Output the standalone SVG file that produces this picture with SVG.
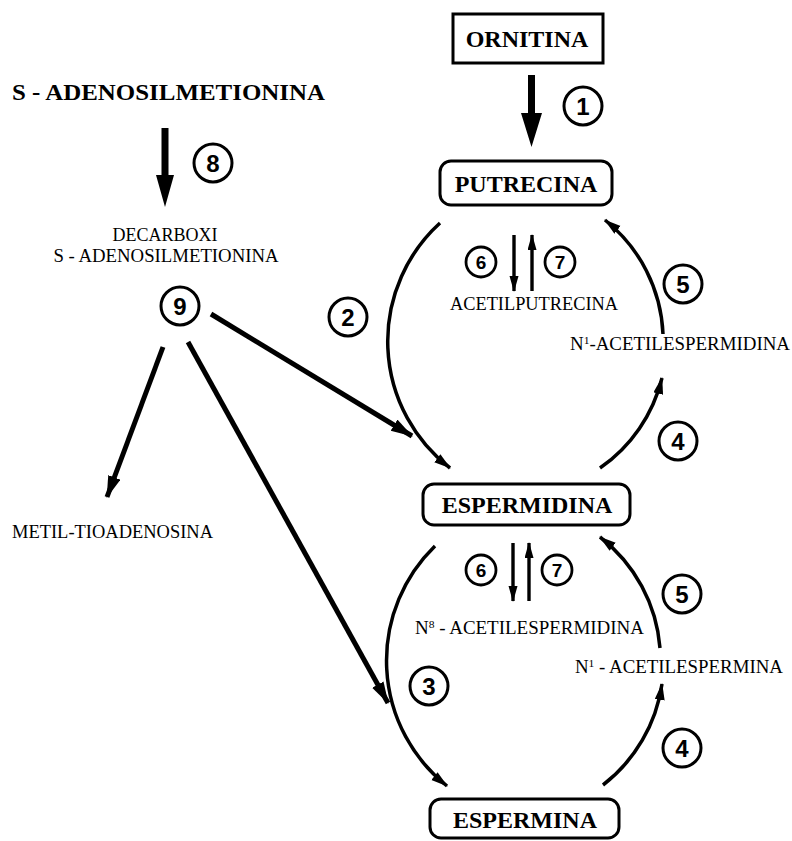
<svg xmlns="http://www.w3.org/2000/svg" width="792" height="841" viewBox="0 0 792 841">
<style>
.box{fill:none;stroke:#000;stroke-width:3}
.bt{font-family:"Liberation Serif","Times New Roman",serif;font-weight:bold;font-size:24px;text-anchor:middle;fill:#000}
.lt{font-family:"Liberation Serif","Times New Roman",serif;font-size:18px;fill:#000}
.sup{font-size:11px}
.cb circle{fill:#fff;stroke:#000;stroke-width:3}
.cb text{font-family:"Liberation Sans",Arial,sans-serif;font-weight:bold;font-size:24px;text-anchor:middle;fill:#000}
.cs circle{fill:#fff;stroke:#000;stroke-width:2.8}
.cs text{font-family:"Liberation Sans",Arial,sans-serif;font-weight:bold;font-size:19px;text-anchor:middle;fill:#000}
.arc{fill:none;stroke:#000;stroke-width:3.5;marker-end:url(#ah)}
.thk{fill:none;stroke:#000;stroke-width:5;marker-end:url(#ahb)}
.thn{fill:none;stroke:#000;stroke-width:3.4;marker-end:url(#ahs)}
</style>
<defs>
<marker id="ah" markerUnits="userSpaceOnUse" markerWidth="18" markerHeight="12" refX="16" refY="5" orient="auto"><path d="M0,0 L17,5 L0,10 Z" fill="#000"/></marker>
<marker id="ahb" markerUnits="userSpaceOnUse" markerWidth="24" markerHeight="16" refX="21" refY="6.5" orient="auto"><path d="M0,0 L22,6.5 L0,13 Z" fill="#000"/></marker>
<marker id="ahs" markerUnits="userSpaceOnUse" markerWidth="18" markerHeight="10" refX="15" refY="4.5" orient="auto"><path d="M0,0 L16,4.5 L0,9 Z" fill="#000"/></marker>
</defs>

<g id="connectors">
  <path id="arrow1" d="M528,75 H535 V113 H542 L531.5,147 L521,113 H528 Z" fill="#000"/>
  <path id="arrow8" d="M161.5,128 H168.5 V175 H174 L165,207 L156,175 H161.5 Z" fill="#000"/>
  <path class="arc" d="M440,223 A160,160 0 0 0 450,468"/>
  <path class="arc" d="M600,468 A154,154 0 0 0 662,378"/>
  <path class="arc" d="M663,334 A154,154 0 0 0 605,220"/>
  <path class="thn" d="M514,235 V291"/>
  <path class="thn" d="M532,291 V235"/>
  <path class="arc" d="M435,546 A160,160 0 0 0 447,786"/>
  <path class="arc" d="M603,785 A156,156 0 0 0 662,684"/>
  <path class="arc" d="M660,648 A156,156 0 0 0 600,537"/>
  <path class="thn" d="M513,543 V601"/>
  <path class="thn" d="M529,601 V543"/>
  <path class="thk" d="M211,314 L412,436"/>
  <path class="thk" d="M188,342 L388,703"/>
  <path class="thk" d="M163,347 L107,497"/>
</g>

<g id="ornitina"><rect class="box" x="453" y="14" width="150" height="49"/><text class="bt" x="527" y="47">ORNITINA</text></g>
<g id="putrecina"><rect class="box" x="440" y="161" width="172" height="44" rx="11"/><text class="bt" x="526" y="192">PUTRECINA</text></g>
<g id="espermidina"><rect class="box" x="423" y="484" width="207" height="41" rx="11"/><text class="bt" x="527" y="513">ESPERMIDINA</text></g>
<g id="espermina"><rect class="box" x="430" y="799" width="189" height="39" rx="11"/><text class="bt" x="525" y="828">ESPERMINA</text></g>

<g id="sam"><text class="bt" x="12" y="100" style="text-anchor:start" textLength="313" lengthAdjust="spacingAndGlyphs">S - ADENOSILMETIONINA</text></g>
<g id="dcsam"><text class="lt" x="165" y="241" text-anchor="middle">DECARBOXI</text><text class="lt" x="166" y="262" text-anchor="middle" textLength="225" lengthAdjust="spacingAndGlyphs">S - ADENOSILMETIONINA</text></g>
<g id="mta"><text class="lt" x="12" y="538" textLength="201" lengthAdjust="spacingAndGlyphs">METIL-TIOADENOSINA</text></g>
<g id="acetilputrecina"><text class="lt" x="450" y="310" textLength="168" lengthAdjust="spacingAndGlyphs">ACETILPUTRECINA</text></g>
<g id="n1acetilespermidina"><text class="lt" x="570" y="350" textLength="220" lengthAdjust="spacingAndGlyphs">N<tspan class="sup" dy="-6">1</tspan><tspan dy="6">-ACETILESPERMIDINA</tspan></text></g>
<g id="n8acetilespermidina"><text class="lt" x="415" y="634" textLength="229" lengthAdjust="spacingAndGlyphs">N<tspan class="sup" dy="-6">8</tspan><tspan dy="6"> - ACETILESPERMIDINA</tspan></text></g>
<g id="n1acetilespermina"><text class="lt" x="575" y="673" textLength="208" lengthAdjust="spacingAndGlyphs">N<tspan class="sup" dy="-6">1</tspan><tspan dy="6"> - ACETILESPERMINA</tspan></text></g>

<g id="c1" class="cb"><circle cx="583" cy="106" r="19"/><text x="583" y="114.5">1</text></g>
<g id="c8" class="cb"><circle cx="213" cy="163" r="19"/><text x="213" y="171.5">8</text></g>
<g id="c9" class="cb"><circle cx="180" cy="306" r="19"/><text x="180" y="314.5">9</text></g>
<g id="c2" class="cb"><circle cx="348" cy="317" r="19"/><text x="348" y="325.5">2</text></g>
<g id="c6a" class="cs"><circle cx="481" cy="262" r="15"/><text x="481" y="269">6</text></g>
<g id="c7a" class="cs"><circle cx="560" cy="262" r="15"/><text x="560" y="269">7</text></g>
<g id="c5a" class="cb"><circle cx="683" cy="284" r="19"/><text x="683" y="292.5">5</text></g>
<g id="c4a" class="cb"><circle cx="678" cy="441" r="19"/><text x="678" y="449.5">4</text></g>
<g id="c6b" class="cs"><circle cx="481" cy="570" r="15"/><text x="481" y="577">6</text></g>
<g id="c7b" class="cs"><circle cx="557" cy="570" r="15"/><text x="557" y="577">7</text></g>
<g id="c5b" class="cb"><circle cx="682" cy="594" r="19"/><text x="682" y="602.5">5</text></g>
<g id="c3" class="cb"><circle cx="429" cy="686" r="19"/><text x="429" y="694.5">3</text></g>
<g id="c4b" class="cb"><circle cx="682" cy="748" r="19"/><text x="682" y="756.5">4</text></g>
</svg>
